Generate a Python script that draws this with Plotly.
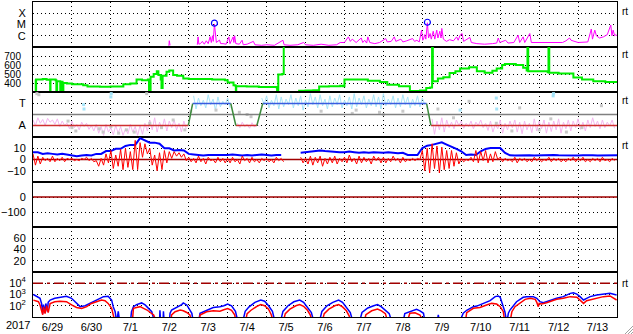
import plotly.graph_objects as go
from plotly.subplots import make_subplots

# ---------------- data ----------------
day_labels = ["6/29", "6/30", "7/1", "7/2", "7/3", "7/4", "7/5", "7/6", "7/7",
              "7/8", "7/9", "7/10", "7/11", "7/12", "7/13"]
year_label = "2017"

# Panel 1: X-ray flux (log10 W/m2), time in days from 2017-06-29 00UT
XRAY = [(3.49, -6.9), (3.50, -6.44), (3.52, -6.85), (3.53, None),
        (4.22, -6.8), (4.24, -6.1), (4.26, -6.75), (4.30, -6.7), (4.35, -6.5), (4.40, -6.75),
        (4.45, -6.45), (4.50, -6.7), (4.55, -6.08), (4.58, -6.6), (4.61, -6.0), (4.63, -6.5),
        (4.66, -4.95), (4.69, -6.3), (4.71, -6.6), (4.79, -6.38), (4.82, -6.7), (4.88, -6.7),
        (4.96, -6.75), (5.03, -6.1), (5.06, -6.7), (5.14, -6.1), (5.16, -6.6), (5.18, -6.0),
        (5.21, -6.7), (5.30, -6.75), (5.37, -6.4), (5.40, -6.8), (5.50, -6.75), (5.66, -6.5),
        (5.70, -6.8), (5.87, -6.85), (6.00, -6.8), (6.20, -6.85), (6.42, -6.4), (6.45, -6.8),
        (6.60, -6.85), (6.80, -6.8), (6.95, -6.6), (7.00, -6.8), (7.20, -6.85), (7.40, -6.75),
        (7.60, -6.85), (7.80, -6.8), (7.89, -6.6), (8.00, -6.6), (8.10, -6.1), (8.15, -6.5),
        (8.20, -6.3), (8.30, -6.6), (8.43, -6.2), (8.47, -6.6), (8.52, -6.4), (8.57, -6.65),
        (8.60, -6.1), (8.65, -6.6), (8.78, -6.7), (8.90, -6.6), (8.95, -6.5), (9.06, -6.25),
        (9.10, -6.55), (9.20, -6.5), (9.28, -6.1), (9.32, -6.5), (9.45, -6.3), (9.50, -6.55),
        (9.60, -6.45), (9.75, -6.25), (9.80, -6.5), (9.86, -6.4), (9.92, -6.55), (9.98, -5.5),
        (10.01, -6.4), (10.03, -6.3), (10.06, -5.9), (10.09, -6.3), (10.13, -4.85), (10.16, -6.2),
        (10.20, -5.8), (10.23, -6.3), (10.28, -5.6), (10.32, -6.3), (10.37, -5.5), (10.40, -6.2),
        (10.45, -5.6), (10.48, -6.2), (10.50, -5.35), (10.54, -6.3), (10.62, -6.5), (10.70, -6.35),
        (10.80, -6.45), (10.88, -6.1), (10.92, -6.4), (10.97, -5.95), (11.02, -5.8), (11.06, -6.5),
        (11.22, -6.15), (11.26, -6.6), (11.40, -6.7), (11.60, -6.75), (11.80, -6.7), (11.91, -6.65),
        (11.95, -6.2), (11.99, -6.6), (12.14, -6.4), (12.20, -6.65), (12.35, -6.6), (12.46, -5.95),
        (12.50, -6.6), (12.59, -6.1), (12.63, -6.6), (12.76, -5.8), (12.80, -6.6), (13.00, -6.6),
        (13.30, -6.65), (13.60, -6.6), (13.69, -6.45), (13.78, -6.2), (13.82, -6.4), (14.00, -6.6),
        (14.25, -6.55), (14.34, -5.4), (14.37, -6.3), (14.43, -5.5), (14.47, -6.0), (14.55, -6.2),
        (14.65, -6.1), (14.75, -5.9), (14.84, -5.05), (14.87, -6.0), (14.90, -5.5), (14.94, -6.0),
        (14.97, -5.9), (15.00, -6.0)]
flare_t = [4.66, 10.13]
flare_log = [-4.88, -4.80]

# Panel 2: solar wind speed (km/s)
WIND = [(0.05, 440), (0.06, 440), (0.07, 305), (0.08, 440), (0.25, 445), (0.35, 435),
        (0.43, 440), (0.44, 310), (0.45, 438), (0.58, 430), (0.60, 300), (0.62, 420),
        (0.70, 305), (0.72, 415), (0.76, 305), (0.78, 400), (0.87, 395), (1.00, 385),
        (1.29, 375), (1.40, 360), (1.72, 358), (2.00, 360), (2.32, 385), (2.50, 395),
        (2.66, 440), (2.80, 430), (2.95, 440), (2.98, 305), (3.02, 470), (3.10, 500),
        (3.18, 530), (3.22, 490), (3.28, 440), (3.30, 345), (3.33, 480), (3.43, 525),
        (3.50, 540), (3.60, 490), (3.70, 480), (3.86, 450), (4.00, 445), (4.29, 445),
        (4.60, 440), (4.93, 430), (5.00, 405), (5.15, 375), (5.20, 370), (5.21, 310),
        (5.22, 365), (5.49, 360), (5.80, 355), (6.00, 355), (6.26, 350), (6.27, 310),
        (6.30, 495), (6.40, 500), (6.44, 800), (6.46, None), (6.81, 315), (7.00, 318),
        (7.20, 320), (7.35, 360), (7.60, 365), (7.89, 370), (7.95, 365), (8.00, 440),
        (8.30, 440), (8.60, 425), (8.91, 410), (9.10, 380), (9.40, 365), (9.68, 310),
        (9.94, 318), (10.10, 345), (10.20, 350), (10.25, 800), (10.27, 420), (10.40, 450),
        (10.54, 465), (10.70, 510), (10.85, 530), (10.97, 560), (11.20, 575), (11.40, 530),
        (11.60, 515), (11.80, 535), (11.91, 560), (12.05, 600), (12.12, 610), (12.40, 600),
        (12.59, 570), (12.68, 540), (12.70, 800), (12.72, 530), (13.00, 530), (13.22, 520),
        (13.24, 800), (13.26, 515), (13.50, 505), (13.88, 460), (14.10, 440), (14.39, 420),
        (14.70, 410), (15.00, 400)]

# Panel 3: IMF sector (T = +1, A = -1)
sector_t = [0.0, 3.99, 4.10, 5.08, 5.21, 5.75, 5.90, 10.11, 10.22, 15.0]
sector_v = [-1, -1, 1, 1, -1, -1, 1, 1, -1, -1]
cloud_step = 0.125
pink1_start = 0.0
pink1_hi = [-0.5, -0.3, -0.45, -0.35, -0.5, -0.4, -0.6, -0.8, -0.6, -0.9, -0.7, -0.8, -1.0, -0.9,
            -1.1, -0.9, -1.2, -1.0, -1.1, -1.3, -0.9, -1.1, -1.0, -0.8, -0.5, -0.3, -0.7, -0.4,
            -0.6, -0.5, -0.8, -0.6]
pink1_lo = [-1.0, -0.8, -1.0, -0.7, -0.9, -1.1, -1.0, -1.3, -1.2, -1.4, -1.1, -1.35, -1.5, -1.7,
            -1.9, -1.6, -1.85, -1.7, -1.9, -1.75, -1.6, -1.9, -1.8, -1.5, -1.4, -1.6, -1.3, -1.5,
            -1.2, -1.4, -1.6, -1.3]
pink2_start = 5.25
pink2_hi = [-0.8, -0.7, -0.9, -0.75, -0.85]
pink2_lo = [-1.2, -1.1, -1.25, -1.15, -1.1]
pink3_start = 10.25
pink3_hi = [-0.4, -0.6, -0.3, -0.5, -0.7, -0.5, -0.6, -0.8, -0.6, -0.7, -0.5, -0.8, -0.6, -0.9,
            -0.5, -0.8, -0.6, -0.5, -0.7, -0.6, -0.8, -0.4, -0.6, -0.5, -0.7, -0.6, -0.4, -0.7,
            -0.5, -0.6, -0.4, -0.7, -0.5, -0.3, -0.6, -0.5, -0.7, -0.5]
pink3_lo = [-1.8, -1.4, -1.6, -1.2, -1.3, -1.0, -1.25, -1.1, -1.3, -1.0, -1.2, -1.45, -1.6, -1.3,
            -1.7, -1.4, -1.2, -1.6, -1.75, -1.4, -1.65, -1.5, -1.3, -1.7, -1.55, -1.4, -1.7, -1.3,
            -1.5, -1.2, -1.35, -1.5, -1.2, -1.1, -1.3, -1.2, -1.05, -1.25]
blue1_start = 4.125
blue1_hi = [1.7, 1.5, 1.3, 1.8, 1.4, 1.6, 1.2, 1.5]
blue1_lo = [0.5, 0.8, 0.6, 0.9, 0.4, 0.7, 0.9, 0.6]
blue2_start = 5.875
blue2_hi = [1.5, 1.7, 1.3, 1.8, 1.6, 1.4, 1.8, 1.5, 1.7, 1.3, 1.9, 1.6, 1.8, 1.4, 1.7, 1.5,
            1.8, 1.3, 1.6, 1.9, 1.5, 1.7, 1.4, 1.8, 1.6, 1.9, 1.4, 1.7, 1.5, 1.8, 1.6, 1.4,
            1.7, 1.5]
blue2_lo = [0.9, 0.6, 0.8, 0.5, 0.7, 0.9, 0.6, 0.8, 0.4, 0.7, 0.9, 0.6, 0.8, 0.5, 0.7, 0.9,
            0.6, 0.8, 0.5, 0.7, 0.9, 0.6, 0.8, 0.7, 0.5, 0.8, 0.9, 0.6, 0.7, 0.9, 0.6, 0.8,
            0.7, 0.9]
gray_t = [0.10, 0.15, 0.90, 1.00, 1.10, 1.70, 1.80, 2.00, 2.20, 2.40, 2.60, 2.92, 3.00, 3.30,
          3.60, 3.90, 4.05, 4.70, 5.30, 5.50, 5.60, 7.40, 8.20, 8.30, 8.90, 9.00, 9.50, 10.40,
          10.80, 11.20, 11.90, 12.30, 12.50, 13.00, 13.30, 13.70, 14.10, 14.60]
gray_v = [1.9, 1.8, -0.6, -1.2, -1.5, -1.3, -1.6, -1.1, -1.7, -1.4, -1.6, 1.9, -0.8, -1.2,
          -0.5, -1.4, 0.3, 0.4, 0.2, 0.0, -0.2, 0.3, 0.1, 0.4, 0.2, 0.0, 0.3, 0.5,
          -0.3, 1.2, -0.8, -1.5, 0.6, -1.4, -0.4, -1.6, -1.2, 0.8]
lblue_t = [1.30, 1.31, 2.00, 2.01, 10.97, 11.90, 11.91, 13.36, 13.37]
lblue_v = [0.9, 0.5, 1.6, 1.9, 0.4, 1.5, 0.5, 1.7, 1.9]

# Panel 4: IMF Bt (blue) and Bz (red), nT, 3-hour samples from day 0
bt_step = 0.125
BT = [6.5, 6.5, 5, 5.5, 5, 4.5, 5, 4.5,
      3.5, 3.0, 3.5, 4.0, 3.5, 5, 5, 7.5,
      7.5, 9.5, 9.5, 12, 13, 13, 19, 17,
      15, 15, 14, 10, 10, 8, 8.5, 8,
      5, 4.5, 4, 3.5, 4, 4, 3.5, 4,
      4, 4.5, 4, 3.5, 4, 3.5, 4, 4.5,
      4, 3.5, 4, 4, None, None, None, 6,
      6.5, 7.5, 7.5, 8, 7.5, 7, 6.5, 6.5,
      6.5, 7, 6.5, 6, 6.5, 6, 6.5, 6,
      6, 6.5, 6, 5.5, 6, 4, 4, 4,
      10.2, 12.3, 13, 14, 15.3, 13.3, 11, 9.4,
      7.3, 4, 4.5, 4, 7.3, 9.4, 10.2, 10.2,
      10.2, 5.9, 3.7, 3.5, 3.7, 4, 3.7, 3.5,
      3.7, 3.5, 3.7, 4, 3.7, 3.5, 3.7, 3.7,
      3.5, 3.7, 4, 3.7, 3.5, 3.7, 3.5, 3.7, 3.7]
BZ_HI = [5, 3, 2, 1, 3, 1, 2, 1,
         1, 0, 1, 2, 1, -1, 1, 5,
         8, 4, 9, 10, 7, 17, 15, 14,
         10, 4, 6, 8, 7, 7, 6, 5,
         2, 1, 3, 1, 2, 0, 2, 1,
         1, 2, 0, 3, 1, 2, 0, 1,
         1, 0, 2, 1, None, None, None, 2,
         1, 3, 2, 3, 1, 2, 3, 1,
         2, 4, 1, 3, 2, 1, 3, 2,
         2, 1, 3, 1, 2, 0, 1, 1,
         8, 10, 14, 12, 11, 8, 8, 6,
         1, 0, 2, 8, 7, 8, 5, 7,
         2, 1, 0, 2, 1, 1, 0, 2,
         1, 0, 2, 1, 1, 0, 1, 2,
         1, 2, 0, 1, 1, 2, 0, 1]
BZ_LO = [-5, -4, -1, -2, -2, -1, -2, 0,
         -1, -1, 0, -1, -2, -6, -5, -3,
         -8, -6, -9, -7, -9, -9, 2, 5,
         -5, -10, -9, -3, 1, 3, 2, -1,
         -2, -3, -2, -4, -1, -3, -2, -3,
         -3, -2, -4, -1, -3, -2, -3, -1,
         -2, -3, -1, -2, None, None, None, -3,
         -4, -5, -3, -6, -4, -3, -4, -2,
         -3, -2, -4, -3, -2, -4, -1, -3,
         -3, -2, -1, -3, -2, -1, -1, 0,
         -10, -12, -8, -12, -9, -8, -6, -4,
         -2, -1, -2, -3, -1, -3, -2, 0,
         -2, -1, -2, -3, -1, -2, -2, -1,
         -2, -1, -2, -1, -2, -2, -1, -2,
         -1, -2, -2, -1, -2, -1, -2, -1]

# Panel 7: electron flux (log10), blue and red channels
EBLUE = [(0.01, 3.0), (0.10, 2.8), (0.18, 2.66), (0.22, 2.2), (0.25, 1.3), (0.27, 2.1), (0.31, 1.4),
         (0.33, 2.2), (0.37, 1.5), (0.39, 2.3), (0.44, 2.5), (0.56, 2.66), (0.69, 2.75), (0.78, 2.85),
         (0.86, 2.85), (0.99, 2.66), (1.12, 2.2), (1.21, 1.92), (1.34, 2.0), (1.46, 2.2), (1.64, 2.5),
         (1.72, 2.66), (1.81, 2.81), (1.93, 2.85), (2.02, 2.5), (2.06, 1.92), (2.11, 1.47), (2.15, 0.5),
         (2.19, 1.5), (2.23, 0.5), (2.50, 0.5), (2.53, 1.47), (2.58, 1.92), (2.66, 2.1), (2.75, 2.21),
         (2.79, 2.25), (2.88, 2.07), (2.96, 1.77), (3.05, 1.47), (3.13, 0.5), (3.25, 0.5), (3.26, 1.6),
         (3.28, 0.5), (3.34, 0.5), (3.35, 1.5), (3.37, 0.5), (3.50, 0.5), (3.52, 1.33), (3.56, 1.62),
         (3.65, 1.77), (3.73, 1.92), (3.82, 2.1), (3.86, 2.25), (3.95, 2.07), (4.03, 1.62), (4.08, 1.33),
         (4.12, 0.5), (4.25, 0.5), (4.29, 1.33), (4.38, 1.47), (4.46, 1.62), (4.63, 1.85), (4.80, 1.92),
         (4.90, 2.0), (5.00, 2.15), (5.10, 2.0), (5.20, 1.5), (5.27, 0.5), (5.38, 0.5), (5.45, 1.5),
         (5.55, 1.9), (5.70, 2.3), (5.85, 2.5), (5.95, 2.4), (6.05, 2.0), (6.15, 1.5), (6.22, 0.5),
         (6.35, 0.5), (6.42, 1.5), (6.55, 2.0), (6.70, 2.35), (6.85, 2.5), (6.95, 2.3), (7.05, 1.9),
         (7.15, 1.4), (7.22, 0.5), (7.35, 0.5), (7.42, 1.5), (7.55, 2.0), (7.70, 2.3), (7.85, 2.5),
         (7.95, 2.3), (8.05, 1.9), (8.15, 1.4), (8.22, 0.5), (8.38, 0.5), (8.45, 1.4), (8.60, 1.8),
         (8.75, 2.0), (8.85, 2.1), (8.95, 1.9), (9.05, 1.6), (9.15, 1.3), (9.22, 0.5), (9.50, 0.5),
         (9.55, 1.3), (9.68, 1.47), (9.77, 1.62), (9.85, 1.68), (9.94, 1.55), (10.03, 1.33), (10.07, 0.5),
         (10.38, 0.5), (10.41, 1.2), (10.44, 0.5), (10.95, 0.5), (11.05, 1.33), (11.14, 1.6), (11.22, 1.77),
         (11.31, 1.92), (11.40, 1.97), (11.48, 2.07), (11.57, 2.21), (11.74, 2.45), (11.87, 2.81),
         (11.95, 2.87), (12.00, 2.75), (12.04, 2.36), (12.08, 1.92), (12.12, 1.47), (12.17, 0.5),
         (12.21, 1.33), (12.25, 1.62), (12.34, 2.07), (12.42, 2.36), (12.51, 2.57), (12.59, 2.75),
         (12.68, 2.81), (12.85, 2.81), (12.94, 2.66), (13.02, 2.36), (13.11, 2.27), (13.19, 2.36),
         (13.28, 2.51), (13.45, 2.66), (13.62, 2.81), (13.80, 3.1), (13.88, 3.15), (13.97, 3.04),
         (14.05, 2.81), (14.14, 2.51), (14.22, 2.66), (14.31, 2.81), (14.48, 2.96), (14.65, 3.04),
         (14.82, 3.1), (14.99, 2.96)]
ERED = [(0.01, 2.5), (0.14, 2.36), (0.18, 2.07), (0.25, 1.2), (0.27, 1.9), (0.31, 1.3), (0.35, 2.0),
        (0.39, 1.4), (0.44, 2.2), (0.56, 2.36), (0.69, 2.4), (0.86, 2.36), (0.99, 2.07), (1.12, 1.85),
        (1.25, 1.75), (1.38, 1.92), (1.50, 2.2), (1.64, 2.36), (1.76, 2.51), (1.85, 2.45), (1.93, 2.21),
        (2.02, 1.77), (2.06, 1.33), (2.11, 0.5), (2.55, 0.5), (2.58, 1.77), (2.66, 1.85), (2.75, 1.92),
        (2.84, 1.77), (2.93, 1.62), (3.01, 1.4), (3.10, 1.18), (3.18, 0.5), (3.54, 0.5), (3.56, 1.18),
        (3.65, 1.47), (3.78, 1.62), (3.86, 1.55), (3.95, 1.40), (4.03, 1.18), (4.08, 0.5), (4.27, 0.5),
        (4.29, 1.18), (4.46, 1.47), (4.63, 1.55), (4.80, 1.52), (4.90, 1.65), (5.00, 1.75), (5.10, 1.6),
        (5.18, 1.2), (5.22, 0.5), (5.45, 0.5), (5.50, 1.3), (5.60, 1.6), (5.75, 1.95), (5.85, 2.1),
        (5.95, 2.0), (6.05, 1.7), (6.12, 1.2), (6.18, 0.5), (6.42, 0.5), (6.48, 1.3), (6.60, 1.7),
        (6.75, 2.0), (6.85, 2.1), (6.95, 1.95), (7.05, 1.6), (7.12, 1.2), (7.18, 0.5), (7.42, 0.5),
        (7.48, 1.3), (7.60, 1.7), (7.75, 2.0), (7.85, 2.1), (7.95, 1.9), (8.05, 1.55), (8.12, 1.1),
        (8.18, 0.5), (8.50, 0.5), (8.55, 1.2), (8.70, 1.55), (8.85, 1.7), (8.95, 1.55), (9.05, 1.3),
        (9.12, 0.5), (9.60, 0.5), (9.68, 1.33), (9.81, 1.38), (9.94, 1.18), (10.03, 0.5), (11.10, 0.5),
        (11.14, 1.38), (11.31, 1.77), (11.48, 1.85), (11.65, 2.07), (11.78, 2.21), (11.91, 2.15),
        (12.00, 1.92), (12.08, 1.47), (12.12, 0.5), (12.25, 0.5), (12.30, 1.47), (12.38, 1.92),
        (12.51, 2.27), (12.64, 2.57), (12.77, 2.66), (12.90, 2.57), (12.94, 2.3), (12.98, 1.92),
        (13.00, 2.2), (13.06, 2.15), (13.19, 2.27), (13.28, 2.36), (13.45, 2.57), (13.62, 2.66),
        (13.80, 2.81), (13.97, 2.75), (14.05, 2.51), (14.14, 2.21), (14.22, 2.45), (14.35, 2.57),
        (14.48, 2.66), (14.65, 2.81), (14.82, 2.87), (14.99, 2.51)]
eflux_alert = 1e4

# ---------------- helpers ----------------
def unzip(pairs):
    return [p[0] for p in pairs], [p[1] for p in pairs]


def zigzag(t0, step, hi, lo):
    xs, ys = [], []
    for i, (h, l) in enumerate(zip(hi, lo)):
        t = t0 + i * step
        if h is None:
            xs.append(None)
            ys.append(None)
            continue
        xs += [t, t + step / 2]
        ys += [h, l]
    return xs, ys


fig = make_subplots(rows=7, cols=1, shared_xaxes=True, vertical_spacing=0)

# Panel 1
xt, xl = unzip(XRAY)
fig.add_trace(go.Scatter(x=xt, y=[None if v is None else 10 ** v for v in xl], mode="lines",
                         line=dict(color="#ff00ff", width=1), connectgaps=False), 1, 1)
fig.add_trace(go.Scatter(x=flare_t, y=[10 ** v for v in flare_log], mode="markers",
                         marker=dict(symbol="circle-open", color="#0000ff", size=6,
                                     line=dict(width=1.2))), 1, 1)

# Panel 2
wt, wv = unzip(WIND)
fig.add_trace(go.Scatter(x=wt, y=wv, mode="lines", line=dict(color="#00ee00", width=2, shape="hv"),
                         connectgaps=False), 2, 1)

# Panel 3 clouds
for start, hi, lo in [(pink1_start, pink1_hi, pink1_lo), (pink2_start, pink2_hi, pink2_lo),
                      (pink3_start, pink3_hi, pink3_lo)]:
    zx, zy = zigzag(start, cloud_step, hi, lo)
    fig.add_trace(go.Scatter(x=zx, y=zy, mode="lines", line=dict(color="#f4b6f0", width=1)), 3, 1)
for start, hi, lo in [(blue1_start, blue1_hi, blue1_lo), (blue2_start, blue2_hi, blue2_lo)]:
    zx, zy = zigzag(start, cloud_step, hi, lo)
    fig.add_trace(go.Scatter(x=zx, y=zy, mode="lines", line=dict(color="#a6e4f8", width=1)), 3, 1)
fig.add_trace(go.Scatter(x=gray_t, y=gray_v, mode="markers",
                         marker=dict(symbol="square", size=3, color="#c8c8c8")), 3, 1)
fig.add_trace(go.Scatter(x=lblue_t, y=lblue_v, mode="markers",
                         marker=dict(symbol="square", size=3, color="#a6e4f8")), 3, 1)
fig.add_trace(go.Scatter(x=[0, 15], y=[0, 0], mode="lines", line=dict(color="#808080", width=1.5)), 3, 1)
seg = {"A": ([], []), "T": ([], []), "X": ([], [])}
for i in range(len(sector_t) - 1):
    a, b = sector_v[i], sector_v[i + 1]
    key = "X" if a != b else ("T" if a > 0 else "A")
    seg[key][0].extend([sector_t[i], sector_t[i + 1], None])
    seg[key][1].extend([a, b, None])
for key, col in [("A", "#d03030"), ("T", "#3a5ce0"), ("X", "#3c8a3c")]:
    fig.add_trace(go.Scatter(x=seg[key][0], y=seg[key][1], mode="lines",
                             line=dict(color=col, width=1.5)), 3, 1)

# Panel 4
fig.add_trace(go.Scatter(x=[0, 15], y=[0, 0], mode="lines", line=dict(color="#a00000", width=1.5)), 4, 1)
btx = [i * bt_step for i in range(len(BT))]
fig.add_trace(go.Scatter(x=btx, y=BT, mode="lines", line=dict(color="#0000ff", width=2),
                         connectgaps=False), 4, 1)
zx, zy = zigzag(0.0, bt_step, BZ_HI, BZ_LO)
fig.add_trace(go.Scatter(x=zx, y=zy, mode="lines", line=dict(color="#ff0000", width=1),
                         connectgaps=False), 4, 1)

# Panel 5
fig.add_trace(go.Scatter(x=[0, 15], y=[0, 0], mode="lines", line=dict(color="#a00000", width=1.5)), 5, 1)

# Panel 6 (no data, keep the frame)
fig.add_trace(go.Scatter(x=[0, 15], y=[None, None], mode="lines", line=dict(color="black")), 6, 1)

# Panel 7
fig.add_trace(go.Scatter(x=[0, 15], y=[eflux_alert, eflux_alert], mode="lines",
                         line=dict(color="#a00000", width=1.5, dash="10px,4px,3px,4px")), 7, 1)
bt_, bv_ = unzip(EBLUE)
fig.add_trace(go.Scatter(x=bt_, y=[10 ** v for v in bv_], mode="lines",
                         line=dict(color="#0000ff", width=1.5)), 7, 1)
rt_, rv_ = unzip(ERED)
fig.add_trace(go.Scatter(x=rt_, y=[10 ** v for v in rv_], mode="lines",
                         line=dict(color="#ff0000", width=1.5)), 7, 1)

# ---------------- axes ----------------
fig.update_xaxes(range=[0, 15], showline=True, mirror=True, linecolor="black", linewidth=1,
                 showgrid=False, zeroline=False, ticks="",
                 tickmode="array", tickvals=[i + 0.5 for i in range(15)], ticktext=day_labels,
                 tickfont=dict(size=11), automargin=False,
                 minor=dict(tickmode="array", tickvals=list(range(1, 15)), showgrid=True,
                            gridcolor="black", griddash="1px,3px", gridwidth=1, ticks=""))
fig.update_yaxes(showline=True, mirror=True, linecolor="black", linewidth=1, zeroline=False,
                 showgrid=True, gridcolor="black", griddash="1px,3px", gridwidth=1, ticks="",
                 tickfont=dict(size=11), automargin=False, ticklabelstandoff=4)
fig.update_yaxes(row=1, col=1, type="log", range=[-7, -3], tickmode="array",
                 tickvals=[1e-6, 1e-5, 1e-4], ticktext=["C", "M", "X"])
fig.update_yaxes(row=2, col=1, range=[300, 800], tickmode="array", tickvals=[400, 500, 600, 700],
                 ticklabelstandoff=9, tickfont=dict(size=10))
fig.update_yaxes(row=3, col=1, range=[-2.05, 2.05], tickmode="array", tickvals=[-1, 1],
                 ticktext=["A", "T"])
fig.update_yaxes(row=4, col=1, range=[-20, 20], tickmode="array", tickvals=[-10, 0, 10])
fig.update_yaxes(row=5, col=1, range=[-200, 100], tickmode="array", tickvals=[-100, 0])
fig.update_yaxes(row=6, col=1, range=[0, 80], tickmode="array", tickvals=[20, 40, 60])
fig.update_yaxes(row=7, col=1, type="log", range=[1, 5], tickmode="array",
                 tickvals=[1e2, 1e3, 1e4],
                 ticktext=["10<sup>2</sup>", "10<sup>3</sup>", "10<sup>4</sup>"])

annotations = [dict(text=year_label, x=-0.0497, y=-0.026, xref="paper", yref="paper",
                    xanchor="left", yanchor="middle", showarrow=False, font=dict(size=11))]
for yp in [0.971, 0.832, 0.686, 0.543, 0.105]:
    annotations.append(dict(text="rt", x=1.005, y=yp, xref="paper", yref="paper", xanchor="left",
                            yanchor="middle", showarrow=False, font=dict(size=10)))
shapes = []
for (x0, y0, x1, y1) in [(625, 334, 633, 326), (628, 334, 633, 329), (631, 334, 633, 332)]:
    shapes.append(dict(type="line", xref="paper", yref="paper",
                       x0=(x0 - 33) / 584, y0=(317 - y0) / 315, x1=(x1 - 33) / 584, y1=(317 - y1) / 315,
                       line=dict(color="#a0a0a0", width=1)))

fig.update_layout(width=633, height=334, margin=dict(l=33, r=16, t=2, b=17),
                  paper_bgcolor="white", plot_bgcolor="white", showlegend=False,
                  font=dict(family="Liberation Sans, Arial, sans-serif", size=11, color="black"),
                  annotations=annotations, shapes=shapes)

fig.write_html("out.html")
